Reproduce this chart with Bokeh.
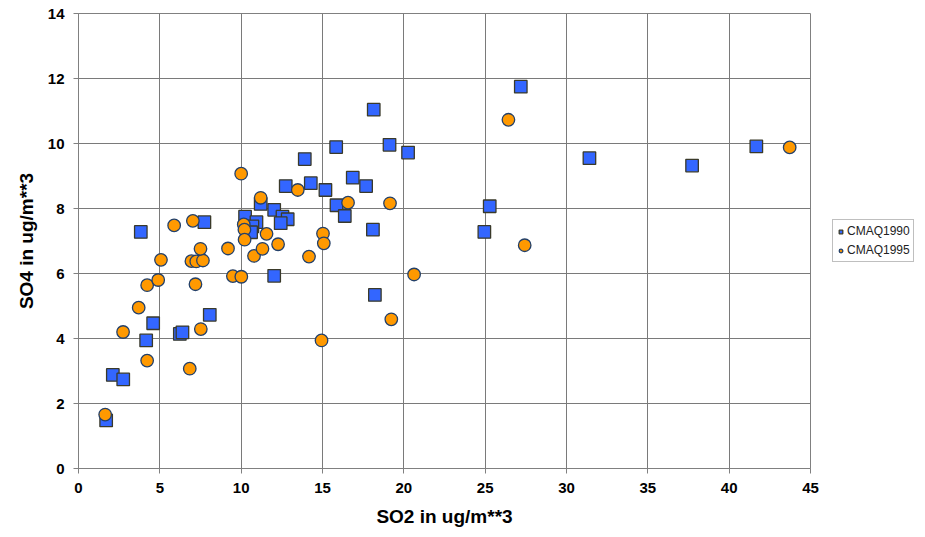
from bokeh.plotting import figure
from bokeh.models import Range1d, Legend, LegendItem, FixedTicker
from bokeh.embed import file_html
from bokeh.resources import INLINE

# CMAQ1990 (squares)
so2_1990 = [1.70, 2.11, 2.75, 4.16, 4.59, 6.23, 6.39, 8.07, 3.83, 7.74,
            10.24, 10.94, 10.69, 10.61, 11.20, 12.03, 12.54, 12.86, 12.43, 12.74,
            13.91, 14.28, 15.18, 15.84, 15.86, 16.37, 16.86, 17.68, 18.15, 18.10,
            18.22, 12.03, 19.12, 20.26, 24.95, 25.28, 27.19, 31.41, 37.72, 41.67]
so4_1990 = [1.48, 2.88, 2.74, 3.94, 4.47, 4.14, 4.19, 4.73, 7.28, 7.58,
            7.75, 7.58, 7.45, 7.27, 8.14, 7.96, 7.75, 7.67, 7.55, 8.69,
            9.52, 8.78, 8.57, 9.89, 8.10, 7.77, 8.95, 8.69, 11.04, 7.35,
            5.34, 5.93, 9.96, 9.72, 7.28, 8.07, 11.75, 9.55, 9.32, 9.91]

# CMAQ1995 (circles)
so2_1995 = [1.64, 2.74, 4.22, 3.70, 4.22, 4.90, 5.07, 5.88, 7.03, 6.84,
            7.52, 7.19, 6.94, 7.24, 7.65, 7.50, 9.19, 9.49, 10.01, 10.00,
            10.16, 10.20, 10.21, 10.79, 11.20, 11.56, 11.31, 12.27, 13.48, 14.17,
            15.03, 15.08, 14.94, 16.57, 19.15, 20.63, 19.23, 26.43, 27.43, 43.72]
so4_1995 = [1.66, 4.20, 3.32, 4.95, 5.64, 5.80, 6.42, 7.48, 7.62, 3.07,
            4.29, 5.67, 6.38, 6.37, 6.40, 6.76, 6.77, 5.92, 5.90, 9.07,
            7.51, 7.35, 7.04, 6.54, 8.33, 7.22, 6.76, 6.90, 8.57, 6.52,
            7.23, 6.93, 3.94, 8.18, 8.16, 5.97, 4.59, 10.73, 6.87, 9.88]

x_ticks = [0, 5, 10, 15, 20, 25, 30, 35, 40, 45]
y_ticks = [0, 2, 4, 6, 8, 10, 12, 14]

p = figure(frame_width=732, frame_height=455, x_range=Range1d(0, 45), y_range=Range1d(0, 14),
           output_backend="svg", toolbar_location=None,
           min_border_left=78, min_border_right=105, min_border_top=13, min_border_bottom=66)

p.background_fill_color = "white"
p.border_fill_color = "white"
p.outline_line_color = "#808080"

for ax, ticks in ((p.xaxis, x_ticks), (p.yaxis, y_ticks)):
    ax.ticker = FixedTicker(ticks=ticks)
    ax.axis_line_color = "#808080"
    ax.major_tick_line_color = "#808080"
    ax.minor_tick_line_color = None
    ax.major_tick_in = 0
    ax.major_tick_out = 5
    ax.major_label_text_font = "Liberation Sans"
    ax.major_label_text_font_style = "bold"
    ax.major_label_text_font_size = "15px"
    ax.major_label_text_color = "black"
    ax.axis_label_text_font = "Liberation Sans"
    ax.axis_label_text_font_style = "bold"
    ax.axis_label_text_font_size = "19px"
    ax.axis_label_text_color = "black"

p.xaxis.axis_label = "SO2 in ug/m**3"
p.yaxis.axis_label = "SO4 in ug/m**3"
p.xaxis.major_label_standoff = 9
p.yaxis.major_label_standoff = 9
p.xaxis.axis_label_standoff = 10
p.yaxis.axis_label_standoff = 8

p.xgrid.ticker = FixedTicker(ticks=x_ticks)
p.ygrid.ticker = FixedTicker(ticks=y_ticks)
for g in (p.xgrid, p.ygrid):
    g.grid_line_color = "#7a7a7a"
    g.grid_line_width = 1

r1 = p.scatter(so2_1990, so4_1990, marker="square", size=12.5,
               fill_color="#3366FF", line_color="#3a3a2a", line_width=1.3)
r2 = p.scatter(so2_1995, so4_1995, marker="circle", size=12.5,
               fill_color="#FF9900", line_color="#23406a", line_width=1.3)

legend = Legend(items=[LegendItem(label="CMAQ1990", renderers=[r1]),
                       LegendItem(label="CMAQ1995", renderers=[r2])],
                location=(22, 206))
legend.label_text_font = "Liberation Sans"
legend.label_text_font_size = "12px"
legend.label_text_color = "#222222"
legend.glyph_width = 9
legend.glyph_height = 9
legend.label_standoff = 2
legend.spacing = 3
legend.padding = 3
legend.margin = 0
legend.label_height = 16
legend.border_line_color = "#808080"
legend.background_fill_color = "white"
p.add_layout(legend, "right")

open("out.html", "w").write(file_html(p, INLINE))
